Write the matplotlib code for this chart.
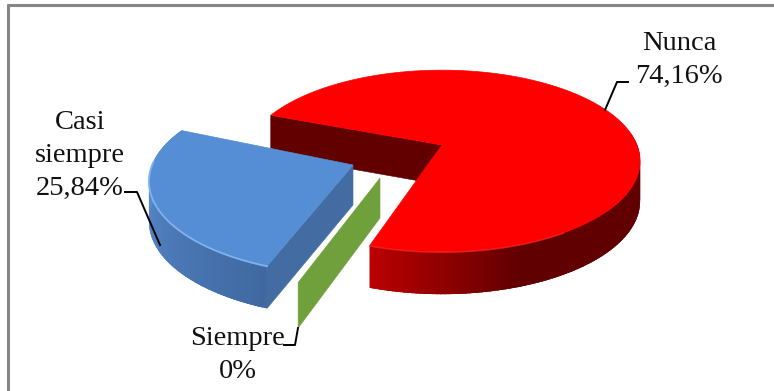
import numpy as np
import matplotlib
matplotlib.use("Agg")
import matplotlib.pyplot as plt
from matplotlib.patches import Polygon

categories = ["Nunca", "Siempre", "Casi siempre"]
values = [74.16, 0.0, 25.84]
labels = ["Nunca\n74,16%", "Siempre\n0%", "Casi\nsiempre\n25,84%"]
colors = ["#FF0000", "#70A03C", "#558ED5"]

plt.rcParams["font.family"] = "Liberation Serif"

START = 201.0
RX, RY, PERSP, DEPTH = 195.0, 88.0, 0.176, 40.0
APEX = {"Nunca": (442, 145), "Siempre": (380, 178), "Casi siempre": (353, 165)}
SCALE = {"Nunca": 1.0, "Siempre": 1.05, "Casi siempre": 1.03}
TURN = {"Nunca": 0.0, "Siempre": 1.5, "Casi siempre": 3.0}

fig = plt.figure(figsize=(7.74, 3.91), dpi=100)
ax = fig.add_axes([0, 0, 1, 1])
ax.set_xlim(0, 774)
ax.set_ylim(391, 0)
ax.axis("off")


def proj(apex, s, rad, th, z=0.0):
    u, v = rad * np.cos(np.radians(th)), rad * np.sin(np.radians(th))
    f = 1.0 / (1.0 - PERSP * v)
    return (apex[0] + s * RX * u * f, apex[1] + s * RY * v * f + DEPTH * z * f ** 0.3)


def mix(a, b, t):
    t = min(max(t, 0.0), 1.0)
    return tuple((1 - t) * x + t * y for x, y in zip(a, b))


def rim(apex, s, t0, t1, col_fn, zo):
    for a in np.arange(t0, t1, 1.0):
        b = min(a + 2.5, t1)
        pts = [proj(apex, s, 1, x, z) for x, z in ((a, 0), (b, 0), (b, 1), (a, 1))]
        ax.add_patch(Polygon(pts, closed=True, fc=col_fn(a), ec="none", zorder=zo))


def cut_wall(apex, s, th, col, zo, z_rim=1.0):
    pts = [proj(apex, s, 0, 0), proj(apex, s, 1, th), proj(apex, s, 1, th, z_rim), proj(apex, s, 0, 0, 1)]
    ax.add_patch(Polygon(pts, closed=True, fc=col, ec=col, lw=0.4, zorder=zo))


spans = {}
cur = START
for cat, val in zip(categories, values):
    spans[cat] = (cur + TURN[cat], cur + TURN[cat] + val * 3.6)
    cur += val * 3.6

# Nunca
a0, a1 = spans["Nunca"]
ap, s = APEX["Nunca"], SCALE["Nunca"]
cut_wall(ap, s, a0, "#620000", 2)
dark, bright = (0.38, 0, 0), (0.74, 0, 0)
rim(ap, s, a0 + 150, a1, lambda t: mix(dark, bright, (t - 430) / (a1 - 430)), 3)
ths = np.linspace(a0, a1, 300)
top = [proj(ap, s, 0, 0)] + [proj(ap, s, 1, t) for t in ths]
ax.add_patch(Polygon(top, closed=True, fc=colors[0], ec=colors[0], lw=0.5, zorder=4))
edge = np.array([proj(ap, s, 1, t) for t in np.linspace(a1 - 50, a1, 100)])
ax.plot(edge[:, 0], edge[:, 1] + 0.5, color="#FF3030", lw=1.0, zorder=5, alpha=0.6)

# Siempre: a zero-size slice only shows its cut wall
th = spans["Siempre"][0]
cut_wall(APEX["Siempre"], SCALE["Siempre"], th, colors[1], 6, z_rim=1.08)

# Casi siempre
a0, a1 = spans["Casi siempre"]
a0 -= 360
a1 -= 360
ap, s = APEX["Casi siempre"], SCALE["Casi siempre"]
cut_wall(ap, s, a0, "#426CA2", 7)
light, deep = (0.35, 0.55, 0.82), (0.25, 0.41, 0.63)
rim(ap, s, a0, a1, lambda t: mix(deep, light, (t - a0) / 70.0), 8)
ths = np.linspace(a0, a1, 120)
top = [proj(ap, s, 0, 0)] + [proj(ap, s, 1, t) for t in ths]
ax.add_patch(Polygon(top, closed=True, fc=colors[2], ec=colors[2], lw=0.5, zorder=9))
edge = np.array([proj(ap, s, 1, t) for t in np.linspace(a0, a1 - 22, 90)])
ax.plot(edge[:, 0], edge[:, 1], color="#7FB2EE", lw=1.3, zorder=10)

# Leader lines
ax.plot([605, 617, 628], [110, 82, 82], color="black", lw=1.4, zorder=11)
ax.plot([125, 137, 160], [192, 192, 245], color="black", lw=1.4, zorder=11)
ax.plot([284, 295, 298], [345, 345, 328], color="black", lw=1.4, zorder=11)

# Labels
fs = 20.5
kw = dict(ha="center", va="center", fontsize=fs, color="#111111", linespacing=1.42, zorder=12)
ax.text(679, 60, labels[0], **kw)
ax.text(238, 355, labels[1], **kw)
ax.text(80, 155, labels[2], **kw)

# Frame
ax.plot([8, 8], [391, 4], color="#868686", lw=2.2, solid_capstyle="butt", zorder=1)
ax.plot([7, 774], [5, 5], color="#868686", lw=2.2, solid_capstyle="butt", zorder=1)

fig.savefig("out.png", dpi=100)
